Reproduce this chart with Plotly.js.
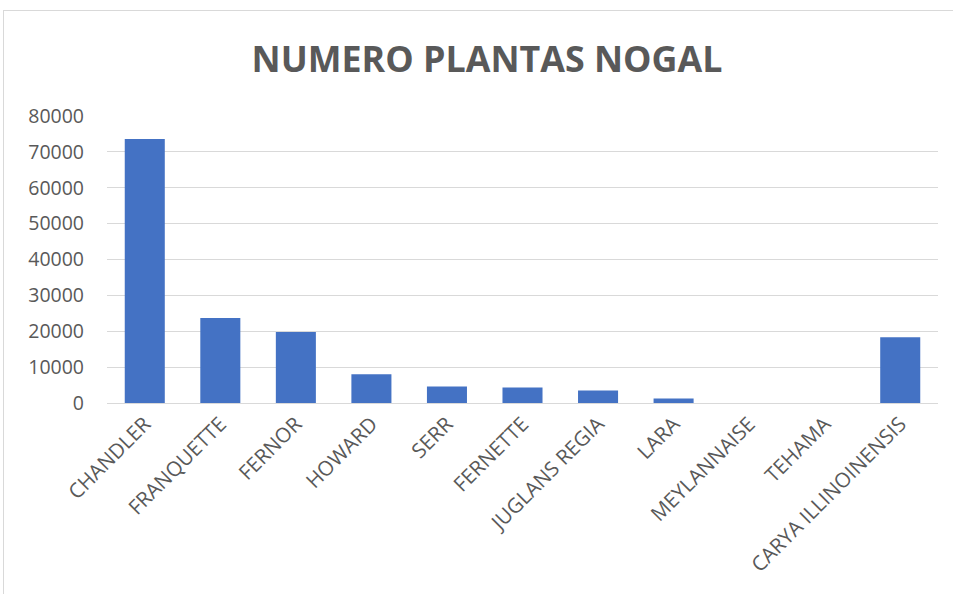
<!DOCTYPE html>
<html>
<head>
<meta charset="utf-8">
<script src="https://cdn.plot.ly/plotly-3.0.1.min.js"></script>
<style>
html,body{margin:0;padding:0;background:#fff;overflow:hidden;}
#chart{width:953px;height:594px;}
#frame{position:absolute;left:3px;top:10px;width:970px;height:620px;border:1px solid #d9d9d9;pointer-events:none;}
</style>
</head>
<body>
<div id="chart"></div>
<div id="frame"></div>
<script>
const categories = ["CHANDLER","FRANQUETTE","FERNOR","HOWARD","SERR","FERNETTE","JUGLANS REGIA","LARA","MEYLANNAISE","TEHAMA","CARYA ILLINOINENSIS"];
const values = [73600, 23700, 19800, 8000, 4600, 4300, 3500, 1250, 20, 15, 18300];
const yTicks = [0,10000,20000,30000,40000,50000,60000,70000,80000];

const trace = {
  type: "bar",
  x: categories,
  y: values,
  marker: {color: "#4472c4", line: {width: 0}},
  hoverinfo: "x+y"
};

const layout = {
  width: 953, height: 594,
  margin: {l: 107, r: 15, t: 116, b: 191},
  paper_bgcolor: "#ffffff",
  plot_bgcolor: "#ffffff",
  bargap: 0.47,
  showlegend: false,
  title: {
    text: "<b>NUMERO PLANTAS NOGAL</b>",
    font: {family: "Open Sans, sans-serif", size: 35.8, color: "#595959"},
    x: 487/953, xref: "container", xanchor: "center",
    y: 1 - 59/594, yref: "container", yanchor: "middle"
  },
  xaxis: {
    type: "category",
    tickangle: -45,
    tickfont: {family: "Open Sans, sans-serif", size: 20.5, color: "#595959"},
    showgrid: false,
    showline: true, linecolor: "#d9d9d9", linewidth: 1,
    ticks: "",
    fixedrange: true
  },
  yaxis: {
    range: [0, 80000],
    tickvals: yTicks,
    ticktext: yTicks.map(String),
    tickfont: {family: "Open Sans, sans-serif", size: 19.5, color: "#595959"},
    showgrid: true, gridcolor: "#d9d9d9", gridwidth: 1,
    zeroline: false,
    showline: false,
    ticks: "",
    ticklabelstandoff: 22,
    fixedrange: true
  }
};

Plotly.newPlot("chart", [trace], layout, {displayModeBar: false, staticPlot: true});
</script>
</body>
</html>
